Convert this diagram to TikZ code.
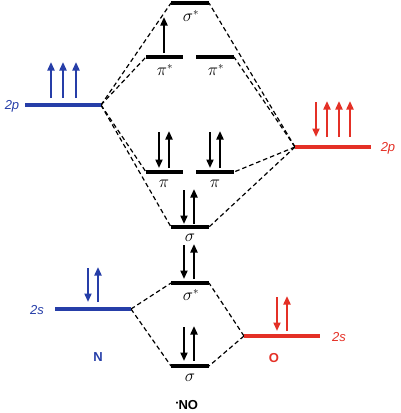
\documentclass[tikz,border=0pt]{standalone}
\usepackage{fontspec}
\setsansfont{Liberation Sans}
\usetikzlibrary{arrows.meta}
\definecolor{nblue}{RGB}{38,62,168}
\definecolor{ored}{RGB}{228,48,38}
\tikzset{
  level/.style={line width=4.5pt},
  conn/.style={line width=1.2pt, dash pattern=on 4.5pt off 3pt},
  spin/.style={line width=2pt, -{Triangle[length=8.5pt,width=7pt]}},
  molab/.style={font=\fontsize{16}{18}\selectfont, inner sep=0pt},
  atlab/.style={font=\sffamily\itshape\fontsize{13}{15}\selectfont, inner sep=0pt},
  elab/.style={font=\sffamily\bfseries\fontsize{13}{15}\selectfont, inner sep=0pt},
}
\begin{document}
\begin{tikzpicture}[x=1pt,y=-1pt]
\useasboundingbox (0,0) rectangle (400,413);
% ---- level end points ----
\coordinate (n2pL) at (25,105);  \coordinate (n2pR) at (101,105);
\coordinate (o2pL) at (295,147); \coordinate (o2pR) at (371,147);
\coordinate (n2sL) at (55,309);  \coordinate (n2sR) at (131,309);
\coordinate (o2sL) at (244,336); \coordinate (o2sR) at (320,336);
\coordinate (ssL) at (171,3);    \coordinate (ssR) at (209,3);
\coordinate (p1sL) at (146,57);  \coordinate (p1sR) at (183,57);
\coordinate (p2sL) at (196,57);  \coordinate (p2sR) at (234,57);
\coordinate (p1L) at (146,172);  \coordinate (p1R) at (183,172);
\coordinate (p2L) at (196,172);  \coordinate (p2R) at (234,172);
\coordinate (sbL) at (171,227);  \coordinate (sbR) at (209,227);
\coordinate (s2sL) at (171,283); \coordinate (s2sR) at (209,283);
\coordinate (s2L) at (171,366);  \coordinate (s2R) at (209,366);
% ---- dashed correlation lines ----
\draw[conn] (n2pR) -- (ssL);
\draw[conn] (n2pR) -- (p1sL);
\draw[conn] (n2pR) -- (p1L);
\draw[conn] (n2pR) -- (sbL);
\draw[conn] (o2pL) -- (ssR);
\draw[conn] (o2pL) -- (p2sR);
\draw[conn] (o2pL) -- (p2R);
\draw[conn] (o2pL) -- (sbR);
\draw[conn] (n2sR) -- (s2sL);
\draw[conn] (n2sR) -- (s2L);
\draw[conn] (o2sL) -- (s2sR);
\draw[conn] (o2sL) -- (s2R);
% ---- levels ----
\draw[level,nblue] (n2pL) -- (n2pR);
\draw[level,ored] (o2pL) -- (o2pR);
\draw[level,nblue] (n2sL) -- (n2sR);
\draw[level,ored] (o2sL) -- (o2sR);
\draw[level] (ssL) -- (ssR);
\draw[level] (p1sL) -- (p1sR);
\draw[level] (p2sL) -- (p2sR);
\draw[level] (p1L) -- (p1R);
\draw[level] (p2L) -- (p2R);
\draw[level] (sbL) -- (sbR);
\draw[level] (s2sL) -- (s2sR);
\draw[level] (s2L) -- (s2R);
% ---- electrons ----
\foreach \x in {51,63,76} \draw[spin,nblue] (\x,98) -- (\x,62);
\draw[spin,ored] (316,102) -- (316,137);
\foreach \x in {327,339,350} \draw[spin,ored] (\x,137) -- (\x,101);
\draw[spin,nblue] (88,268) -- (88,302);
\draw[spin,nblue] (98,302) -- (98,267);
\draw[spin,ored] (277,297) -- (277,331);
\draw[spin,ored] (287,331) -- (287,296);
\draw[spin] (164,53) -- (164,17);
\foreach \x in {159,210} {
  \draw[spin] (\x,132) -- (\x,168);
  \draw[spin] (\x+10,168) -- (\x+10,131);
}
\foreach \y in {190,245,327} {
  \draw[spin] (184,\y) -- (184,\y+34);
  \draw[spin] (194,\y+34) -- (194,\y-1);
}
% ---- labels ----
\node[molab] (lss) at (191,16) {$\sigma^*$};
\node[molab] (lp1s) at (165,70) {$\pi^*$};
\node[molab] (lp2s) at (216,70) {$\pi^*$};
\node[molab] (lp1) at (164,184) {$\pi$};
\node[molab] (lp2) at (215,184) {$\pi$};
\node[molab] (lsb) at (190,238) {$\sigma$};
\node[molab] (ls2s) at (191,295) {$\sigma^*$};
\node[molab] (ls2) at (190,378) {$\sigma$};
\node[atlab,nblue] (ln2p) at (12,106) {2p};
\node[atlab,ored] (lo2p) at (388,148) {2p};
\node[atlab,nblue] (ln2s) at (37,310) {2s};
\node[atlab,ored] (lo2s) at (339,337) {2s};
\node[elab,nblue] (lN) at (98,357) {N};
\node[elab,ored] (lO) at (274,358) {O};
\node[elab] (lNO) at (187,405) {\raisebox{0.6ex}{\scalebox{0.55}{\textbullet}}NO};
\end{tikzpicture}
\end{document}
